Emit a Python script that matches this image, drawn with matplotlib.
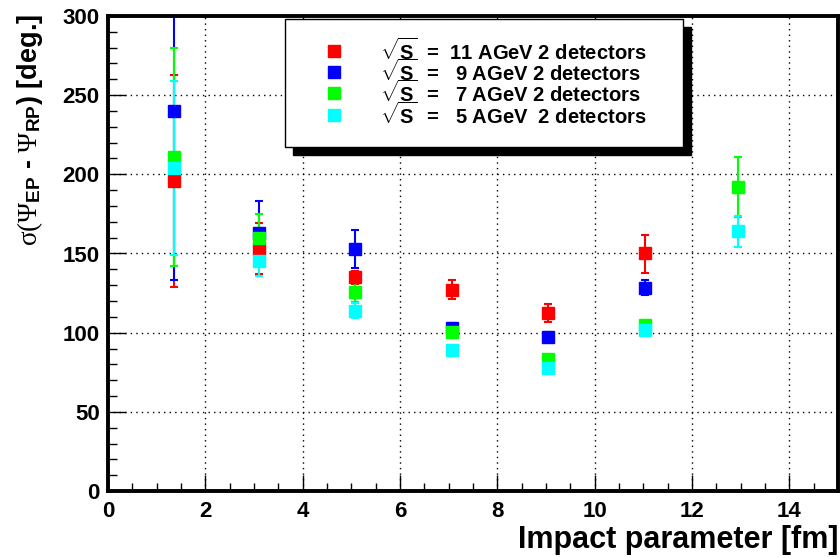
import matplotlib
matplotlib.use('Agg')
import matplotlib.pyplot as plt
from matplotlib.patches import Rectangle
from matplotlib.lines import Line2D
import numpy as np

plt.rcParams['font.family'] = ['Liberation Sans', 'DejaVu Sans']
plt.rcParams['font.weight'] = 'bold'
plt.rcParams['mathtext.fontset'] = 'custom'
plt.rcParams['mathtext.rm'] = 'Liberation Serif:normal'
plt.rcParams['mathtext.it'] = 'Liberation Serif:normal'
plt.rcParams['mathtext.bf'] = 'Liberation Sans:bold'

# impact parameter of each centrality bin
impact = [1.35, 3.1, 5.07, 7.06, 9.05, 11.03, 12.95]

# sigma(Psi_EP - Psi_RP) per energy
red = [196, 153, 135, 127, 112.5, 150]
red_err = [67, 16, 4, 6, 5.5, 12]
blue = [240, 163, 153, 103, 97.5, 128.5]
blue_err = [107, 20, 12, 3, 3, 5]
green = [211, 160, 125.5, 100.5, 83.5, 105, 192]
green_err = [69, 15, 6, 3, 3, 3, 19]
cyan = [204, 145.5, 114, 89, 77.5, 101.5, 164]
cyan_err = [55, 10, 5, 3, 3, 3, 10]

series = [
    (red, red_err, '#ff0000'),
    (blue, blue_err, '#0000ff'),
    (green, green_err, '#00ff00'),
    (cyan, cyan_err, '#00ffff'),
]
labels = [r'$\sqrt{\mathbf{S}}$  =  11 AGeV 2 detectors',
          r'$\sqrt{\mathbf{S}}$  =   9 AGeV 2 detectors',
          r'$\sqrt{\mathbf{S}}$  =   7 AGeV 2 detectors',
          r'$\sqrt{\mathbf{S}}$  =   5 AGeV  2 detectors']

W, H = 840, 557
fig = plt.figure(figsize=(W / 100, H / 100), dpi=100)
ax = fig.add_axes([108 / W, 1 - 491 / H, 730 / W, 475 / H])

ymax = 300
for vals, errs, col in series:
    v = np.array(vals, dtype=float)
    e = np.array(errs, dtype=float)
    hi = np.minimum(v + e, ymax) - v
    lo = np.minimum(e, v)
    ax.errorbar(impact[:len(v)], v, yerr=[lo, hi], fmt='s', color=col,
                ms=8.5, mec=col, elinewidth=1.5, capsize=2.6, capthick=1.5)

ax.set_xlim(0, 15)
ax.set_ylim(0, ymax)
ax.set_xticks(np.arange(0, 15, 2))
ax.set_xticks(np.arange(0, 15, 0.5), minor=True)
ax.set_yticks(np.arange(0, 301, 50))
ax.set_yticks(np.arange(0, 301, 10), minor=True)
ax.grid(True, which='major', color='black', linestyle=(0, (1, 3)), linewidth=1.0)
ax.set_axisbelow(True)

for s in ax.spines.values():
    s.set_linewidth(2.8)
ax.tick_params(axis='both', which='both', direction='in', width=1.0,
               top=False, right=False, labelsize=16)
ax.tick_params(axis='x', which='major', length=11.5, pad=7)
ax.tick_params(axis='x', which='minor', length=6)
ax.tick_params(axis='y', which='major', length=13, pad=6)
ax.tick_params(axis='y', which='minor', length=6.5)

fig.text(838 / W, 1 - 540 / H, 'Impact parameter [fm]', ha='right', va='center',
         fontsize=22, fontweight='bold')
fig.text(30 / W, 1 - 14 / H, r'$\sigma(\Psi_{\mathbf{EP}}$ - $\Psi_{\mathbf{RP}}$) [deg.]',
         rotation=90, ha='center', va='top', fontsize=19.5, fontweight='bold')

# legend box with solid shadow
lx0, ly0, lx1, ly1 = 285, 19, 683, 147
fig.add_artist(Rectangle(((lx0 + 8) / W, 1 - (ly1 + 8) / H), (lx1 - lx0) / W, (ly1 - ly0) / H,
                         transform=fig.transFigure, facecolor='black', edgecolor='black', zorder=5))
fig.add_artist(Rectangle((lx0 / W, 1 - ly1 / H), (lx1 - lx0) / W, (ly1 - ly0) / H,
                         transform=fig.transFigure, facecolor='white', edgecolor='black',
                         linewidth=1.0, zorder=6))
rows = [51, 72, 93, 115]
for (vals, errs, col), lab, ry in zip(series, labels, rows):
    fig.add_artist(Line2D([334 / W], [1 - ry / H], marker='s', ms=8.5, color=col,
                          mec=col, linestyle='none', transform=fig.transFigure, zorder=7))
    fig.text(380 / W, 1 - ry / H, lab, ha='left', va='center', fontsize=14.5,
             fontweight='bold', zorder=7)

fig.savefig('out.png', dpi=100)
